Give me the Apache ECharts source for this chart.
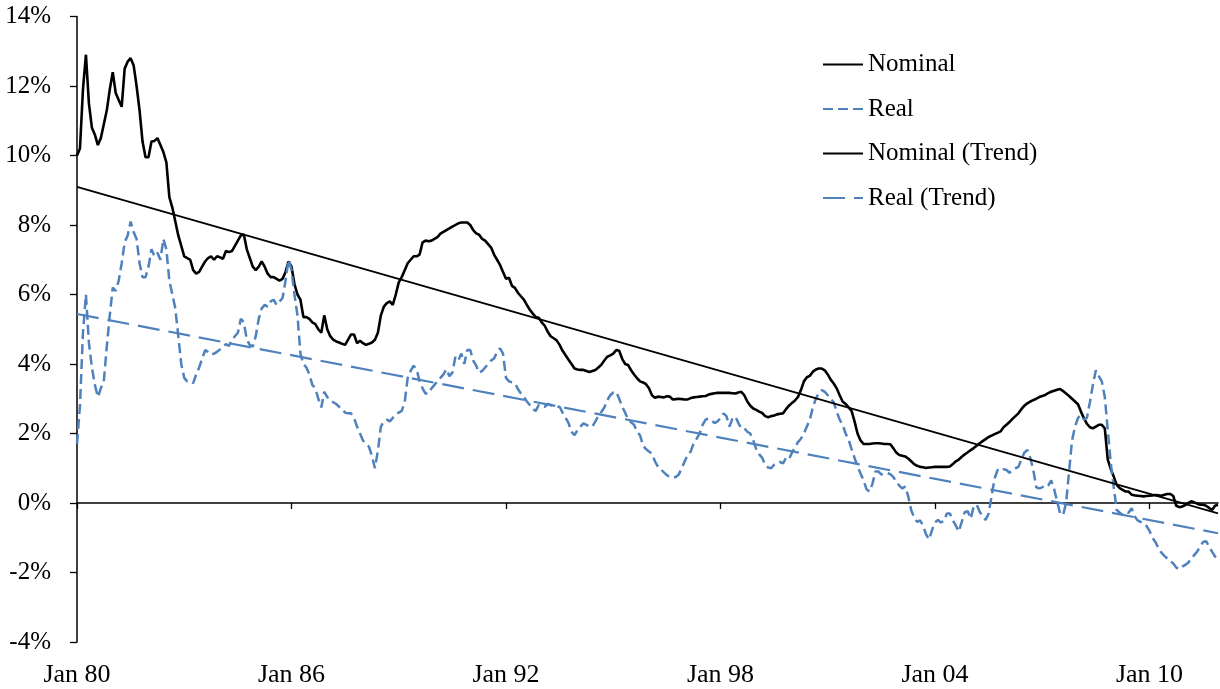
<!DOCTYPE html>
<html lang="en">

<head>
    <meta charset="UTF-8">
    <meta name="viewport" content="width=device-width, initial-scale=1.0">
    <title>Nominal and Real</title>
    <!-- load ECharts -->
    <script src="https://cdn.jsdelivr.net/npm/echarts@6/dist/echarts.min.js"></script>
    <style>
        body {
            margin: 0;
            background: #fff;
        }

        #main {
            width: 1220px;
            height: 689px;
        }
    </style>
</head>

<body>
    <div id="main"></div>

    <script>
        // monthly values, Jan 1980 - Dec 2011 (one row per year)
        const nominal = [
            10.0, 10.2, 11.9, 12.9, 11.5, 10.8, 10.6, 10.3, 10.5, 10.9, 11.3, 11.9,
            12.4, 11.8, 11.6, 11.4, 12.5, 12.7, 12.8, 12.6, 12.0, 11.3, 10.4, 9.95,
            9.95, 10.4, 10.42, 10.5, 10.3, 10.1, 9.8, 8.8, 8.5, 8.1, 7.7, 7.4,
            7.1, 7.05, 7.0, 6.7, 6.6, 6.65, 6.8, 6.95, 7.05, 7.1, 7.0, 7.1,
            7.07, 7.03, 7.25, 7.22, 7.25, 7.4, 7.55, 7.7, 7.73, 7.3, 7.05, 6.8,
            6.7, 6.8, 6.95, 6.8, 6.6, 6.5, 6.5, 6.45, 6.4, 6.45, 6.65, 6.95,
            6.8, 6.3, 6.0, 5.85, 5.35, 5.35, 5.3, 5.2, 5.15, 5.0, 4.9, 5.4,
            5.0, 4.8, 4.7, 4.65, 4.62, 4.58, 4.55, 4.7, 4.85, 4.85, 4.6, 4.67,
            4.6, 4.55, 4.58, 4.62, 4.7, 4.9, 5.4, 5.65, 5.75, 5.8, 5.7, 6.0,
            6.35, 6.5, 6.7, 6.9, 7.0, 7.1, 7.1, 7.15, 7.5, 7.55, 7.53, 7.55,
            7.6, 7.65, 7.75, 7.8, 7.85, 7.9, 7.95, 8.0, 8.05, 8.07, 8.07, 8.07,
            8.0, 7.85, 7.76, 7.72, 7.6, 7.55, 7.45, 7.35, 7.15, 7.0, 6.85, 6.65,
            6.45, 6.48, 6.25, 6.19, 6.05, 5.95, 5.85, 5.7, 5.56, 5.45, 5.35, 5.33,
            5.2, 5.1, 4.93, 4.8, 4.74, 4.68, 4.55, 4.38, 4.25, 4.12, 4.0, 3.87,
            3.84, 3.83, 3.83, 3.8, 3.77, 3.8, 3.83, 3.9, 3.98, 4.1, 4.21, 4.25,
            4.3, 4.4, 4.38, 4.15, 4.0, 3.97, 3.82, 3.7, 3.59, 3.5, 3.47, 3.42,
            3.3, 3.1, 3.03, 3.06, 3.05, 3.04, 3.07, 3.06, 2.98, 2.99, 3.0, 2.99,
            2.98, 2.98, 3.02, 3.04, 3.05, 3.06, 3.07, 3.08, 3.12, 3.14, 3.16, 3.17,
            3.17, 3.17, 3.17, 3.17, 3.16, 3.15, 3.18, 3.2, 3.1, 2.92, 2.8, 2.72,
            2.68, 2.63, 2.59, 2.5, 2.47, 2.5, 2.52, 2.55, 2.57, 2.58, 2.7, 2.8,
            2.88, 2.95, 3.05, 3.25, 3.5, 3.62, 3.66, 3.78, 3.84, 3.87, 3.87, 3.82,
            3.7, 3.55, 3.44, 3.3, 3.1, 2.92, 2.85, 2.75, 2.65, 2.35, 2.0, 1.8,
            1.7, 1.7, 1.7, 1.71, 1.72, 1.72, 1.71, 1.7, 1.7, 1.69, 1.58, 1.45,
            1.38, 1.36, 1.34, 1.28, 1.2, 1.12, 1.07, 1.04, 1.03, 1.01, 1.02, 1.03,
            1.04, 1.04, 1.04, 1.04, 1.04, 1.05, 1.12, 1.2, 1.25, 1.33, 1.4, 1.46,
            1.52, 1.58, 1.65, 1.72, 1.78, 1.84, 1.9, 1.94, 1.98, 2.02, 2.06, 2.18,
            2.25, 2.33, 2.42, 2.5, 2.58, 2.7, 2.8, 2.87, 2.92, 2.96, 3.0, 3.05,
            3.08, 3.11, 3.16, 3.2, 3.23, 3.26, 3.28, 3.22, 3.15, 3.08, 3.0, 2.92,
            2.84, 2.63, 2.44, 2.28, 2.18, 2.15, 2.2, 2.25, 2.25, 2.15, 1.25, 0.98,
            0.76, 0.52, 0.43, 0.38, 0.33, 0.33, 0.24, 0.22, 0.21, 0.2, 0.19, 0.2,
            0.21, 0.22, 0.23, 0.22, 0.21, 0.24, 0.26, 0.26, 0.2, -0.08, -0.12, -0.1,
            -0.06, 0.0, 0.05, 0.02, -0.02, -0.05, -0.05, -0.08, -0.14, -0.2, -0.08, -0.05
        ];

        const real = [
            1.7, 2.8, 4.9, 6.0, 4.6, 3.9, 3.4, 3.05, 3.3, 3.5, 4.5, 5.4,
            6.2, 6.1, 6.4, 6.9, 7.5, 7.7, 8.1, 7.8, 7.6, 6.9, 6.5, 6.5,
            6.8, 7.3, 7.1, 7.2, 7.0, 7.6, 7.3, 6.4, 6.0, 5.6, 4.8, 4.0,
            3.6, 3.5, 3.5, 3.45, 3.7, 3.9, 4.15, 4.4, 4.35, 4.27, 4.3, 4.35,
            4.42, 4.5, 4.57, 4.52, 4.7, 4.8, 4.9, 5.3, 5.2, 4.7, 4.55, 4.5,
            4.8, 5.3, 5.6, 5.7, 5.65, 5.8, 5.85, 5.7, 5.8, 5.9, 6.4, 7.0,
            6.7, 6.0, 5.4, 4.3, 4.0, 3.9, 3.7, 3.4, 3.3, 3.0, 2.75, 3.2,
            3.05, 2.95, 2.9, 2.85, 2.77, 2.7, 2.6, 2.58, 2.58, 2.45, 2.2, 2.0,
            1.8, 1.7, 1.62, 1.35, 1.0, 1.5, 2.2, 2.35, 2.4, 2.35, 2.45, 2.55,
            2.6, 2.65, 2.9, 3.6, 3.8, 3.95, 3.85, 3.5, 3.3, 3.15, 3.15, 3.3,
            3.4, 3.5, 3.6, 3.7, 3.85, 3.65, 3.75, 4.2, 4.1, 4.3, 4.0, 4.4,
            4.4, 4.1, 3.95, 3.75, 3.8, 3.9, 4.0, 4.1, 4.16, 4.35, 4.45, 4.3,
            3.6, 3.5, 3.47, 3.44, 3.28, 3.15, 3.05, 2.92, 2.82, 2.7, 2.65, 2.82,
            2.8, 2.77, 2.85, 2.82, 2.78, 2.77, 2.77, 2.6, 2.45, 2.3, 2.05, 1.95,
            2.1, 2.2, 2.29, 2.25, 2.2, 2.2, 2.35, 2.5, 2.62, 2.75, 2.96, 3.1,
            3.18, 3.2, 3.0, 2.77, 2.6, 2.4, 2.32, 2.25, 2.05, 1.95, 1.65, 1.55,
            1.48, 1.42, 1.2, 1.05, 0.97, 0.88, 0.8, 0.75, 0.74, 0.75, 0.82, 1.0,
            1.2, 1.4, 1.48, 1.72, 1.85, 2.0, 2.25, 2.4, 2.43, 2.38, 2.3, 2.35,
            2.44, 2.58, 2.5, 2.2, 2.42, 2.49, 2.3, 2.15, 2.15, 2.05, 2.0, 1.8,
            1.55, 1.4, 1.3, 1.1, 1.02, 1.0, 1.1, 1.15, 1.18, 1.14, 1.3, 1.26,
            1.45, 1.6, 1.75, 1.85, 2.0, 2.2, 2.4, 2.75, 3.0, 3.16, 3.25, 3.2,
            3.1, 3.0, 2.9, 2.63, 2.4, 2.25, 2.0, 1.82, 1.55, 1.3, 1.05, 0.85,
            0.66, 0.4, 0.33, 0.55, 0.91, 0.91, 0.82, 0.84, 0.86, 0.83, 0.75, 0.62,
            0.5, 0.42, 0.47, 0.2, -0.2, -0.42, -0.54, -0.5, -0.65, -0.9, -1.05, -0.78,
            -0.56, -0.49, -0.56, -0.52, -0.3, -0.3, -0.5, -0.65, -0.82, -0.54, -0.26, -0.24,
            -0.45, -0.1, -0.05, -0.25, -0.38, -0.49, -0.3, 0.2, 0.7, 0.95, 0.91, 0.97,
            0.95, 0.87, 0.95, 1.0, 1.04, 1.25, 1.45, 1.53, 1.3, 0.95, 0.45, 0.42,
            0.45, 0.52, 0.5, 0.65, 0.4, 0.05, -0.3, -0.35, 0.0, 0.9, 1.8, 2.2,
            2.45, 2.53, 2.4, 2.45, 2.9, 3.4, 3.82, 3.65, 3.5, 3.05, 2.1, 1.15,
            0.45, -0.2, -0.28, -0.34, -0.25, -0.28, -0.15, -0.38, -0.5, -0.54, -0.62, -0.66,
            -0.8, -1.0, -1.12, -1.3, -1.43, -1.52, -1.6, -1.68, -1.74, -1.86, -1.9, -1.83,
            -1.78, -1.72, -1.6, -1.5, -1.4, -1.25, -1.12, -1.1, -1.25, -1.4, -1.54, -1.6
        ];

        // trend lines: value at first and last month
        const nominalTrend = [9.1, -0.3];
        const realTrend = [5.44, -0.87];

        // x-axis labels and the month index where each one sits
        const tickMonths = [0, 72, 144, 216, 288, 360];
        const tickLabels = ['Jan 80', 'Jan 86', 'Jan 92', 'Jan 98', 'Jan 04', 'Jan 10'];

        const lastMonth = nominal.length - 1;
        const font = "'Liberation Serif', 'Times New Roman', serif";
        const blue = '#4F81BD';

        var myChart = echarts.init(document.getElementById('main'));

        var option = {
            animation: false,
            backgroundColor: '#fff',
            textStyle: { fontFamily: font },
            grid: {
                left: 77,
                right: 2,
                top: 16.5,
                bottom: 47,
                containLabel: false
            },
            legend: {
                orient: 'vertical',
                left: 817,
                top: 47,
                itemWidth: 40,
                itemHeight: 14,
                itemGap: 19.5,
                // hide the marker dot, keep only the line
                itemStyle: { opacity: 0 },
                textStyle: {
                    fontFamily: font,
                    fontSize: 25,
                    color: '#000'
                },
                data: ['Nominal', 'Real', 'Nominal (Trend)', 'Real (Trend)']
            },
            xAxis: [{
                // bottom labels only
                type: 'value',
                min: 0,
                max: lastMonth,
                position: 'bottom',
                axisLine: { show: false, onZero: false },
                axisTick: { show: false },
                splitLine: { show: false },
                axisLabel: {
                    customValues: tickMonths,
                    margin: 20,
                    fontFamily: font,
                    fontSize: 26,
                    color: '#000',
                    formatter: function (v) {
                        return tickLabels[tickMonths.indexOf(v)] || '';
                    }
                }
            }, {
                // axis line with ticks running along 0%
                type: 'value',
                min: 0,
                max: lastMonth,
                position: 'bottom',
                axisLine: { show: true, onZero: true, lineStyle: { color: '#000', width: 1.5 } },
                axisTick: { show: true, customValues: tickMonths, length: 6, lineStyle: { color: '#000', width: 1.3 } },
                axisLabel: { show: false },
                splitLine: { show: false }
            }],
            yAxis: {
                type: 'value',
                min: -4,
                max: 14,
                interval: 2,
                axisLine: { show: true, lineStyle: { color: '#000', width: 1.5 } },
                axisTick: { show: true, length: 7, lineStyle: { color: '#000', width: 1.3 } },
                splitLine: { show: false },
                axisLabel: {
                    margin: 26,
                    fontFamily: font,
                    fontSize: 25,
                    color: '#000',
                    formatter: '{value}%'
                }
            },
            series: [{
                name: 'Nominal',
                type: 'line',
                showSymbol: false,
                symbol: 'none',
                color: '#000',
                lineStyle: { color: '#000', width: 2.6 },
                data: nominal.map((v, i) => [i, v])
            }, {
                name: 'Real',
                type: 'line',
                showSymbol: false,
                symbol: 'none',
                color: blue,
                lineStyle: { color: blue, width: 2.5, type: [10, 5] },
                data: real.map((v, i) => [i, v])
            }, {
                name: 'Nominal (Trend)',
                type: 'line',
                showSymbol: false,
                symbol: 'none',
                color: '#000',
                lineStyle: { color: '#000', width: 1.8 },
                data: [[0, nominalTrend[0]], [lastMonth, nominalTrend[1]]]
            }, {
                name: 'Real (Trend)',
                type: 'line',
                showSymbol: false,
                symbol: 'none',
                color: blue,
                lineStyle: { color: blue, width: 2.2, type: [22, 9] },
                data: [[0, realTrend[0]], [lastMonth, realTrend[1]]]
            }]
        };

        myChart.setOption(option);
    </script>
</body>

</html>
